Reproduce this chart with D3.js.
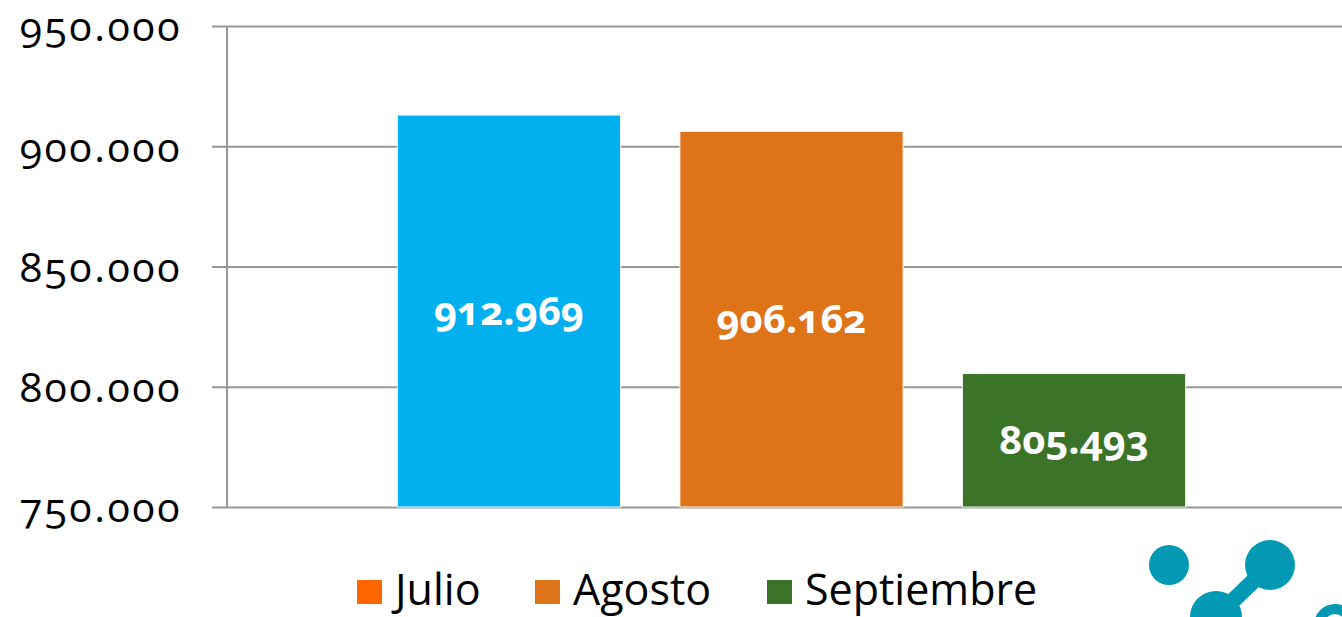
<!DOCTYPE html>
<html lang="es">
<head>
<meta charset="UTF-8">
<title>Julio - Septiembre</title>
<script src="https://d3js.org/d3.v7.min.js"></script>
<style>
  body { margin: 0; background: #fff; }
  svg text { font-family: "Open Sans", Lato, sans-serif; font-feature-settings: "onum"; }
</style>
</head>
<body>
<svg></svg>
<script>
var width = 1342, height = 617;

var categories = ["Julio", "Agosto", "Septiembre"];
var values = [912969, 906162, 805493];
var barColors = ["#02B0F0", "#DF7318", "#3B7328"];
var legendColors = ["#FF6600", "#DF7318", "#3B7328"];
var yTicks = [750000, 800000, 850000, 900000, 950000];

var svg = d3.select("svg").attr("width", width).attr("height", height);

var fmt = function (v) { return d3.format(",")(v).replace(/,/g, "."); };

var y = d3.scaleLinear().domain([750000, 950000]).range([507, 26]);
var x = d3.scaleBand()
    .domain(categories)
    .range([227, 1356])
    .paddingInner(0.21)
    .paddingOuter(0.603);

// gridlines + ticks
var yAxis = d3.axisLeft(y)
    .tickValues(yTicks)
    .tickSize(-(width - 212))
    .tickFormat(fmt)
    .tickPadding(30);

var g = svg.append("g").attr("transform", "translate(212,0)").call(yAxis);
g.select(".domain").remove();
g.selectAll(".tick line").attr("stroke", "#979797").attr("stroke-width", 2);
g.selectAll(".tick text")
    .attr("fill", "#000")
    .style("font-size", "41px")
    .style("letter-spacing", "2.5px")
    .attr("dy", "0.36em");

// vertical axis line
svg.append("line")
    .attr("x1", 227).attr("x2", 227)
    .attr("y1", y(950000)).attr("y2", y(750000))
    .attr("stroke", "#979797").attr("stroke-width", 2);

// bars
svg.selectAll("rect.bar")
    .data(values)
    .enter()
    .append("rect")
    .attr("class", "bar")
    .attr("x", function (d, i) { return x(categories[i]); })
    .attr("y", function (d) { return y(d); })
    .attr("width", x.bandwidth())
    .attr("height", function (d) { return y(750000) - y(d); })
    .attr("fill", function (d, i) { return barColors[i]; })
    .attr("stroke", "#f4f4f4")
    .attr("stroke-width", 1);

// value labels
svg.selectAll("text.val")
    .data(values)
    .enter()
    .append("text")
    .attr("class", "val")
    .attr("x", function (d, i) { return x(categories[i]) + x.bandwidth() / 2; })
    .attr("y", function (d) { return (y(d) + y(750000)) / 2; })
    .attr("dy", "0.35em")
    .attr("text-anchor", "middle")
    .attr("fill", "#fff")
    .style("font-size", "40px")
    .style("font-weight", "bold")
    .text(fmt);

// legend
var legendX = [357, 535, 767];
var leg = svg.selectAll("g.leg")
    .data(categories)
    .enter()
    .append("g")
    .attr("class", "leg")
    .attr("transform", function (d, i) { return "translate(" + legendX[i] + ",580)"; });
leg.append("rect").attr("width", 25).attr("height", 24)
    .attr("fill", function (d, i) { return legendColors[i]; });
leg.append("text").attr("x", 38).attr("y", 25)
    .style("font-size", "43px").attr("fill", "#000")
    .text(function (d) { return d; });

// logo decoration (bottom right)
var logo = svg.append("g").attr("fill", "#0399B5");
logo.append("circle").attr("cx", 1169).attr("cy", 565).attr("r", 20);
logo.append("circle").attr("cx", 1270).attr("cy", 565).attr("r", 25);
logo.append("circle").attr("cx", 1216).attr("cy", 617).attr("r", 26);
logo.append("line").attr("x1", 1270).attr("y1", 565).attr("x2", 1216).attr("y2", 617)
    .attr("stroke", "#0399B5").attr("stroke-width", 16);
logo.append("circle").attr("cx", 1335).attr("cy", 625).attr("r", 16)
    .attr("fill", "none").attr("stroke", "#0399B5").attr("stroke-width", 10);
</script>
</body>
</html>
